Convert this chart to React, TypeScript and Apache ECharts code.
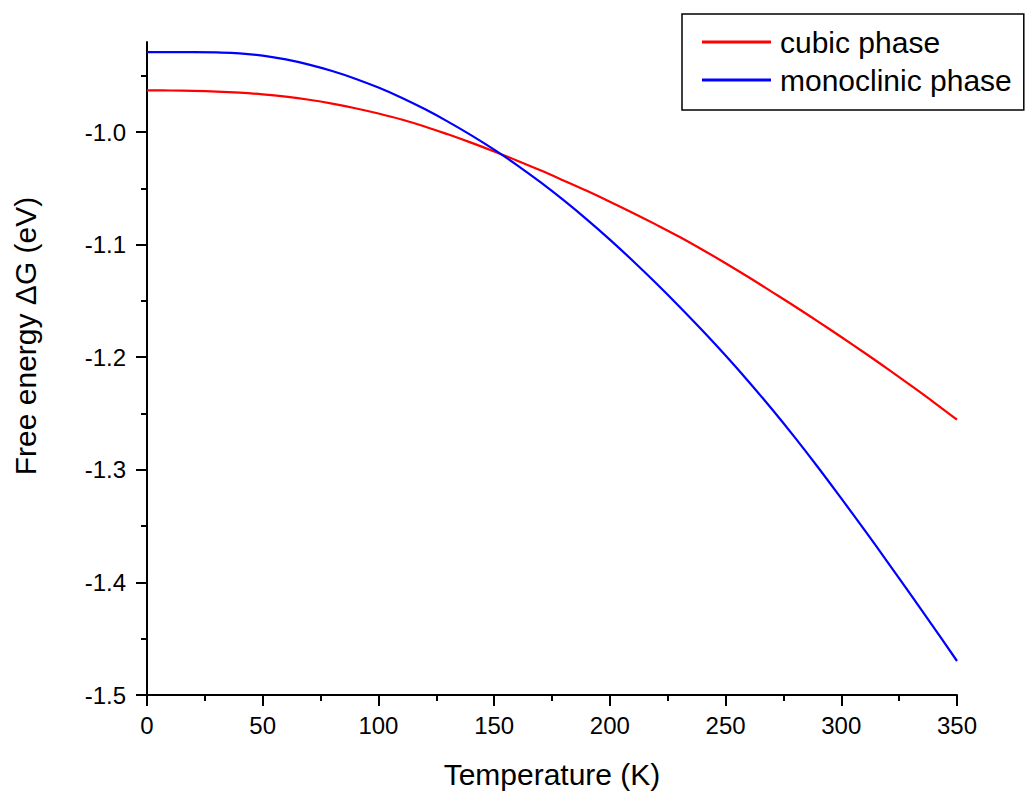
import React, { useEffect, useRef } from "react";
import * as echarts from "echarts";

const temperatures = [0, 10, 20, 30, 40, 50, 60, 70, 80, 90, 100, 110, 120, 130, 140, 150, 160, 170, 180, 190, 200, 210, 220, 230, 240, 250, 260, 270, 280, 290, 300, 310, 320, 330, 340, 350];

const cubicPhase = [-0.963, -0.9631, -0.9634, -0.964, -0.965, -0.9665, -0.9686, -0.9713, -0.9747, -0.9788, -0.9835, -0.9888, -0.995, -1.002, -1.0094, -1.0172, -1.0254, -1.034, -1.043, -1.0522, -1.0618, -1.0718, -1.0822, -1.093, -1.1045, -1.1165, -1.129, -1.1419, -1.1549, -1.1683, -1.182, -1.196, -1.2103, -1.225, -1.24, -1.2555];

const monoclinicPhase = [-0.929, -0.929, -0.929, -0.9293, -0.9301, -0.9321, -0.9355, -0.9401, -0.9458, -0.9526, -0.9605, -0.9695, -0.9796, -0.9907, -1.0027, -1.0156, -1.0295, -1.0445, -1.0605, -1.0775, -1.0955, -1.1145, -1.1343, -1.1549, -1.1763, -1.1985, -1.2217, -1.246, -1.2714, -1.2979, -1.3254, -1.3534, -1.3819, -1.4109, -1.4402, -1.4698];

const seriesNames = ["cubic phase", "monoclinic phase"];
const xTitle = "Temperature (K)";
const yTitle = "Free energy \u0394G (eV)";
const yMajorTicks = [-1.5, -1.4, -1.3, -1.2, -1.1, -1.0];
const yMinorTicks = [-1.45, -1.35, -1.25, -1.15, -1.05, -0.95];
const xMinorTicks = [25, 75, 125, 175, 225, 275, 325];

const FONT = "'Liberation Sans', Arial, sans-serif";

export default function App() {
  const ref = useRef<HTMLDivElement>(null);

  useEffect(() => {
    document.body.style.margin = "0";
    if (!ref.current) return;
    const chart = echarts.init(ref.current, null, { renderer: "svg" });
    const tickStyle = { color: "#000", width: 2 };
    chart.setOption({
      animation: false,
      backgroundColor: "#fff",
      grid: { left: 147, top: 42, right: 72, bottom: 96 },
      legend: {
        left: 682,
        top: 14,
        orient: "vertical",
        icon: "rect",
        itemWidth: 69,
        itemHeight: 3,
        itemGap: 4,
        padding: [11, 12, 13, 20],
        borderColor: "#000",
        borderWidth: 1.5,
        data: seriesNames,
        textStyle: { fontSize: 30, fontFamily: FONT, color: "#000", lineHeight: 34, padding: [0, 0, 0, 4] },
      },
      xAxis: [
        {
          type: "value",
          min: 0,
          max: 350,
          interval: 50,
          position: "bottom",
          axisLine: { show: true, lineStyle: tickStyle },
          axisTick: { show: true, length: 11, lineStyle: tickStyle },
          axisLabel: { fontSize: 24, fontFamily: FONT, color: "#000", margin: 18 },
          splitLine: { show: false },
        },
        {
          type: "value",
          min: 0,
          max: 350,
          interval: 25,
          position: "bottom",
          axisLine: { show: false },
          axisTick: { show: true, length: 6, lineStyle: tickStyle, customValues: xMinorTicks },
          axisLabel: { show: false },
          splitLine: { show: false },
        },
      ],
      yAxis: [
        {
          type: "value",
          min: -1.5,
          max: -0.92,
          interval: 0.1,
          position: "left",
          axisLine: { show: true, lineStyle: tickStyle },
          axisTick: { show: true, length: 11, lineStyle: tickStyle, customValues: yMajorTicks },
          axisLabel: {
            fontSize: 24,
            fontFamily: FONT,
            color: "#000",
            margin: 21,
            customValues: yMajorTicks,
            formatter: (v: number) => v.toFixed(1),
          },
          splitLine: { show: false },
        },
        {
          type: "value",
          min: -1.5,
          max: -0.92,
          interval: 0.05,
          position: "left",
          axisLine: { show: false },
          axisTick: { show: true, length: 6, lineStyle: tickStyle, customValues: yMinorTicks },
          axisLabel: { show: false },
          splitLine: { show: false },
        },
      ],
      graphic: [
        {
          type: "text",
          x: 552,
          y: 774,
          style: { text: xTitle, fontSize: 30, fontFamily: FONT, fill: "#000", align: "center", verticalAlign: "middle" },
        },
        {
          type: "text",
          x: 25,
          y: 336,
          rotation: Math.PI / 2,
          style: { text: yTitle, fontSize: 30, fontFamily: FONT, fill: "#000", align: "center", verticalAlign: "middle" },
        },
      ],
      series: [
        {
          name: seriesNames[0],
          type: "line",
          xAxisIndex: 0,
          yAxisIndex: 0,
          showSymbol: false,
          symbol: "none",
          smooth: 0.4,
          lineStyle: { color: "#ff0000", width: 2.2 },
          itemStyle: { color: "#ff0000" },
          data: temperatures.map((t, i) => [t, cubicPhase[i]]),
        },
        {
          name: seriesNames[1],
          type: "line",
          xAxisIndex: 0,
          yAxisIndex: 0,
          showSymbol: false,
          symbol: "none",
          smooth: 0.4,
          lineStyle: { color: "#0000ff", width: 2.2 },
          itemStyle: { color: "#0000ff" },
          data: temperatures.map((t, i) => [t, monoclinicPhase[i]]),
        },
      ],
    });
    return () => chart.dispose();
  }, []);

  return <div ref={ref} style={{ width: 1029, height: 791 }} />;
}
